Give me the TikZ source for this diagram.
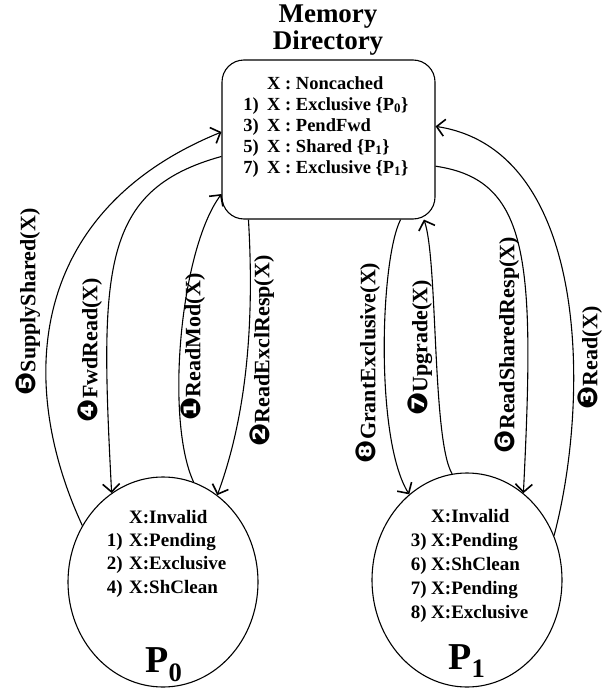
\documentclass[tikz,border=0pt]{standalone}
\usepackage{fontspec}
\setmainfont{Liberation Serif}
\newfontfamily\dingfont[Scale=1.25]{DejaVu Sans}
\usetikzlibrary{shapes.geometric,arrows.meta}

\newcommand{\stepnum}[1]{{\dingfont\char\numexpr"2775+#1\relax}}

\tikzset{
  msg/.style={line width=1.1pt, -{Straight Barb[length=8pt,width=17pt,line width=1.6pt]}},
  msglabel/.style={rotate=90, inner sep=0pt, font=\fontsize{22}{22}\selectfont\bfseries},
  dirtext/.style={inner sep=0pt, font=\fontsize{18.5}{21}\selectfont\bfseries},
  proctext/.style={inner sep=0pt, font=\fontsize{19}{23}\selectfont\bfseries},
  proc/.style={draw, ellipse, line width=1.1pt, minimum width=190pt, minimum height=210pt},
  bigname/.style={anchor=base, inner sep=0pt, font=\fontsize{38}{38}\selectfont\bfseries},
}

\begin{document}
\begin{tikzpicture}[x=1pt,y=-1pt]
  \useasboundingbox (0,0) rectangle (605,688);

  % memory directory
  \node[anchor=base, font=\fontsize{27}{27}\selectfont\bfseries] (title1) at (328,23) {Memory};
  \node[anchor=base, font=\fontsize{27}{27}\selectfont\bfseries] (title2) at (328,49) {Directory};
  \node[draw, line width=1.1pt, rounded corners=22pt, minimum width=213pt, minimum height=159pt] (dir) at (328.5,139.5) {};
  \foreach \num/\txt [count=\i] in {{}/{X : Noncached}, {1)}/{X : Exclusive \{P\textsubscript{0}\}}, {3)}/{X : PendFwd}, {5)}/{X : Shared \{P\textsubscript{1}\}}, {7)}/{X : Exclusive \{P\textsubscript{1}\}}}
  {
    \node[dirtext, anchor=base east] (dirnum\i) at (259,{68+21*\i}) {\num};
    \node[dirtext, anchor=base west] (dirtxt\i) at (267,{68+21*\i}) {\txt};
  }

  % processors
  \node[proc] (p0) at (163,582) {};
  \node[proc, minimum height=214pt] (p1) at (467,580) {};
  \node[bigname] (p0name) at (164,672) {P\textsubscript{0}};
  \node[bigname] (p1name) at (467,669) {P\textsubscript{1}};

  \foreach \num/\txt [count=\i] in {{}/X:Invalid, {1)}/X:Pending, {2)}/X:Exclusive, {4)}/X:ShClean}
  {
    \node[proctext, anchor=base east] (p0num\i) at (123,{500+23.3*\i}) {\num};
    \node[proctext, anchor=base west] (p0txt\i) at (129,{500+23.3*\i}) {\txt};
  }
  \foreach \num/\txt [count=\i] in {{}/X:Invalid, {3)}/X:Pending, {6)}/X:ShClean, {7)}/X:Pending, {8)}/X:Exclusive}
  {
    \node[proctext, anchor=base east] (p1num\i) at (427,{498+24*\i}) {\num};
    \node[proctext, anchor=base west] (p1txt\i) at (431,{498+24*\i}) {\txt};
  }

  % messages on the P0 side
  \draw[msg] (p0.145) .. controls (15,380) and (30,210) .. (dir.176);
  \draw[msg] (dir.189) .. controls (100,190) and (100,270) .. (p0.120);
  \draw[msg] (p0.73) .. controls (165,420) and (180,250) .. (dir.207);
  \draw[msg] (dir.225) .. controls (255,330) and (245,420) .. (p0.58);

  % messages on the P1 side
  \draw[msg] (dir.312) .. controls (380,260) and (375,440) .. (p1.124);
  \draw[msg] (p1.98) .. controls (432,440) and (438,260) .. (dir.320);
  \draw[msg] (dir.346) .. controls (530,180) and (535,260) .. (p1.57);
  \draw[msg] (p1.27) .. controls (590,400) and (590,150) .. (dir.7);

  \node[msglabel] (m5) at (28,302) {\stepnum{5}SupplyShared(X)};
  \node[msglabel] (m4) at (90,350) {\stepnum{4}FwdRead(X)};
  \node[msglabel] (m1) at (193,347) {\stepnum{1}ReadMod(X)};
  \node[msglabel] (m2) at (262,351) {\stepnum{2}ReadExclResp(X)};
  \node[msglabel] (m8) at (368,363) {\stepnum{8}GrantExclusive(X)};
  \node[msglabel] (m7) at (420,348) {\stepnum{7}Upgrade(X)};
  \node[msglabel] (m6) at (507,345) {\stepnum{6}ReadSharedResp(X)};
  \node[msglabel] (m3) at (590,358) {\stepnum{3}Read(X)};
\end{tikzpicture}
\end{document}
